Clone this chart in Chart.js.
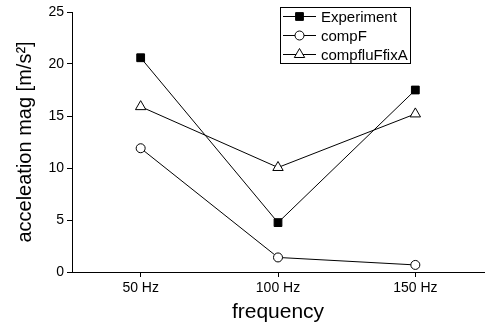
<!DOCTYPE html>
<html><head><meta charset="utf-8">
<script src="https://cdn.jsdelivr.net/npm/chart.js@4/dist/chart.umd.min.js"></script>
<style>html,body{margin:0;padding:0;background:#fff}</style>
</head><body>
<canvas id="c" width="491" height="325"></canvas>
<script>
const categories = ["50 Hz", "100 Hz", "150 Hz"];
const experiment = [20.6, 4.75, 17.5];
const compF = [11.9, 1.4, 0.68];
const compfluFfixA = [15.9, 10.05, 15.2];
const yTicks = [0, 5, 10, 15, 20, 25];
const FONT = "'Liberation Sans', Arial, sans-serif";

const legendPlugin = {
  id: 'boxLegend',
  afterDraw(chart) {
    const ctx = chart.ctx;
    const x0 = 280, y0 = 7, w = 130, h = 56;
    ctx.save();
    ctx.fillStyle = '#fff';
    ctx.fillRect(x0, y0, w, h);
    ctx.strokeStyle = '#000';
    ctx.lineWidth = 1;
    ctx.strokeRect(x0 + 0.5, y0 + 0.5, w, h);
    const rows = [16, 35, 54];
    chart.data.datasets.forEach((ds, i) => {
      const y = rows[i] + 0.5;
      ctx.beginPath();
      ctx.moveTo(283, y); ctx.lineTo(316, y);
      ctx.strokeStyle = '#000'; ctx.lineWidth = 1; ctx.stroke();
      ctx.fillStyle = ds.pointBackgroundColor;
      ctx.strokeStyle = '#000';
      ctx.lineWidth = 1;
      Chart.helpers.drawPoint(ctx, {pointStyle: ds.pointStyle, radius: ds.pointRadius, borderWidth: 1}, 299.5, y);
      ctx.fillStyle = '#000';
      ctx.font = '15px ' + FONT;
      ctx.textBaseline = 'middle';
      ctx.fillText(ds.label, 321, y + 1);
    });
    ctx.restore();
  }
};

function ds(label, data, style, bg, r) {
  return {
    label, data,
    borderColor: '#000', borderWidth: 1,
    pointStyle: style, pointRadius: r, pointHoverRadius: r,
    pointBackgroundColor: bg, pointBorderColor: '#000', pointBorderWidth: 1,
    tension: 0, fill: false
  };
}

new Chart(document.getElementById('c'), {
  type: 'line',
  data: {
    labels: categories,
    datasets: [
      ds('Experiment', experiment, 'rect', '#000', 5.5),
      ds('compF', compF, 'circle', '#fff', 4.5),
      ds('compfluFfixA', compfluFfixA, 'triangle', '#fff', 6)
    ]
  },
  options: {
    responsive: false,
    animation: false,
    devicePixelRatio: 1,
    layout: { padding: { top: 12, right: 4, left: 0, bottom: 0 } },
    plugins: { legend: { display: false }, tooltip: { enabled: false } },
    scales: {
      x: {
        type: 'category',
        offset: true,
        grid: { display: true, drawOnChartArea: false, drawTicks: true, tickLength: 5, color: '#000', offset: false },
        border: { display: true, color: '#000', width: 1 },
        ticks: { color: '#000', font: { family: FONT, size: 14 }, padding: 3 },
        title: { display: true, text: 'frequency', color: '#000', font: { family: FONT, size: 21 }, padding: { top: 2, bottom: 0 } },
        afterFit(s) { s.height = 53; }
      },
      y: {
        min: 0, max: 25,
        afterBuildTicks(s) { s.ticks = yTicks.map(v => ({ value: v })); },
        grid: { display: true, drawOnChartArea: false, drawTicks: true, tickLength: 5, color: '#000' },
        border: { display: true, color: '#000', width: 1 },
        ticks: { color: '#000', font: { family: FONT, size: 14 }, padding: 3 },
        title: { display: true, text: 'acceleation mag [m/s²]', color: '#000', font: { family: FONT, size: 20 }, padding: { top: 13, bottom: 0 } },
        afterFit(s) { s.width = 72; }
      }
    }
  },
  plugins: [legendPlugin]
});
</script>
</body></html>
